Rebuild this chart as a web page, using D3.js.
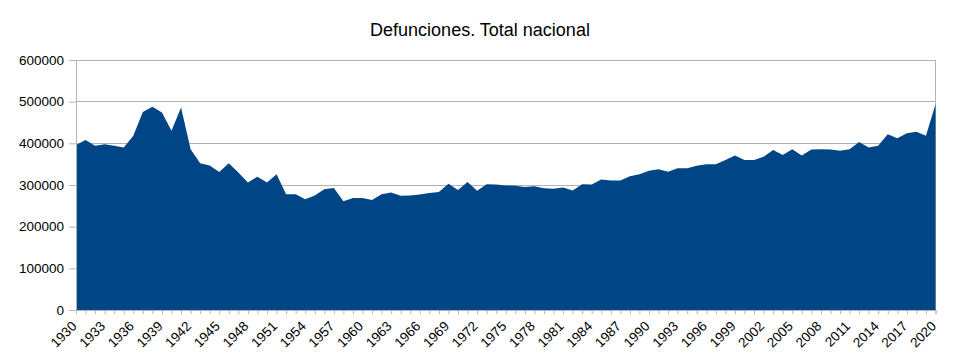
<!DOCTYPE html>
<html><head><meta charset="utf-8">
<script src="https://cdn.jsdelivr.net/npm/d3@7"></script>
<style>body{margin:0;background:#fff;font-family:"Liberation Sans",Arial,sans-serif;}</style>
</head><body><svg id="c" width="960" height="360"></svg>
<script>
const years = d3.range(1930, 2021);
const deaths = [
396000,408000,394000,398000,394000,390000,418000,475000,488000,474000,
430000,486000,386000,352000,347000,331000,352000,330000,306000,320000,
306000,326000,278000,278000,266000,275000,290000,293000,261000,269000,
269000,264000,278000,282000,274000,275000,277000,281000,283000,303000,
288000,307000,286000,302000,301000,299000,298000,295000,297000,292000,
291000,294000,287000,302000,301000,313000,311000,311000,321000,326000,
334000,338000,332000,340000,340000,346000,350000,350000,360000,371000,
360000,360000,368000,384000,372000,386000,371000,385000,386000,385000,
382000,386000,403000,390000,394000,422000,412000,424000,428000,418000,
494000];
const yTicks = [0,100000,200000,300000,400000,500000,600000];
const title = "Defunciones. Total nacional";

const svg = d3.select("#c");
const L = 76, R = 935.5, T = 60, B = 310;
const x = d3.scaleLinear().domain([1930, 2020]).range([L, R]);
const y = d3.scaleLinear().domain([0, 600000]).range([B, T]);

svg.append("text").attr("x", 480).attr("y", 36).attr("text-anchor", "middle")
  .attr("font-size", 18).attr("fill", "#000").text(title);

// gridlines
svg.append("g").selectAll("line").data(yTicks).join("line")
  .attr("x1", L).attr("x2", R).attr("y1", d => y(d)).attr("y2", d => y(d))
  .attr("stroke", "#b3b3b3").attr("stroke-width", 1).attr("shape-rendering", "crispEdges");
svg.append("line").attr("x1", R).attr("x2", R).attr("y1", T).attr("y2", B)
  .attr("stroke", "#b3b3b3").attr("shape-rendering", "crispEdges");

// area
const data = years.map((yr, i) => ({yr, v: deaths[i]}));
svg.append("path").datum(data)
  .attr("d", d3.area().x(d => x(d.yr)).y0(y(0)).y1(d => y(d.v)))
  .attr("fill", "#004586");

// y axis
const ya = svg.append("g").attr("transform", `translate(${L},0)`)
  .call(d3.axisLeft(y).tickValues(yTicks).tickFormat(d3.format("d")).tickSize(7).tickPadding(5));
ya.select(".domain").attr("stroke", "#b3b3b3");
ya.selectAll(".tick line").attr("stroke", "#b3b3b3");
ya.selectAll("text").attr("font-size", 13.5).attr("fill", "#000").attr("font-family", "Liberation Sans, Arial, sans-serif");

// x axis
const xa = svg.append("g").attr("transform", `translate(0,${B})`)
  .call(d3.axisBottom(x).tickValues(years).tickFormat(d => (d - 1930) % 3 === 0 ? String(d) : "").tickSize(4));
xa.select(".domain").attr("stroke", "#b3b3b3");
xa.selectAll(".tick line").attr("stroke", "#b3b3b3");
xa.selectAll("text").attr("font-size", 13.5).attr("fill", "#000")
  .attr("font-family", "Liberation Sans, Arial, sans-serif")
  .attr("text-anchor", "end").attr("dy", null).attr("y", 0)
  .attr("transform", "translate(1,17) rotate(-45)");
</script></body></html>
